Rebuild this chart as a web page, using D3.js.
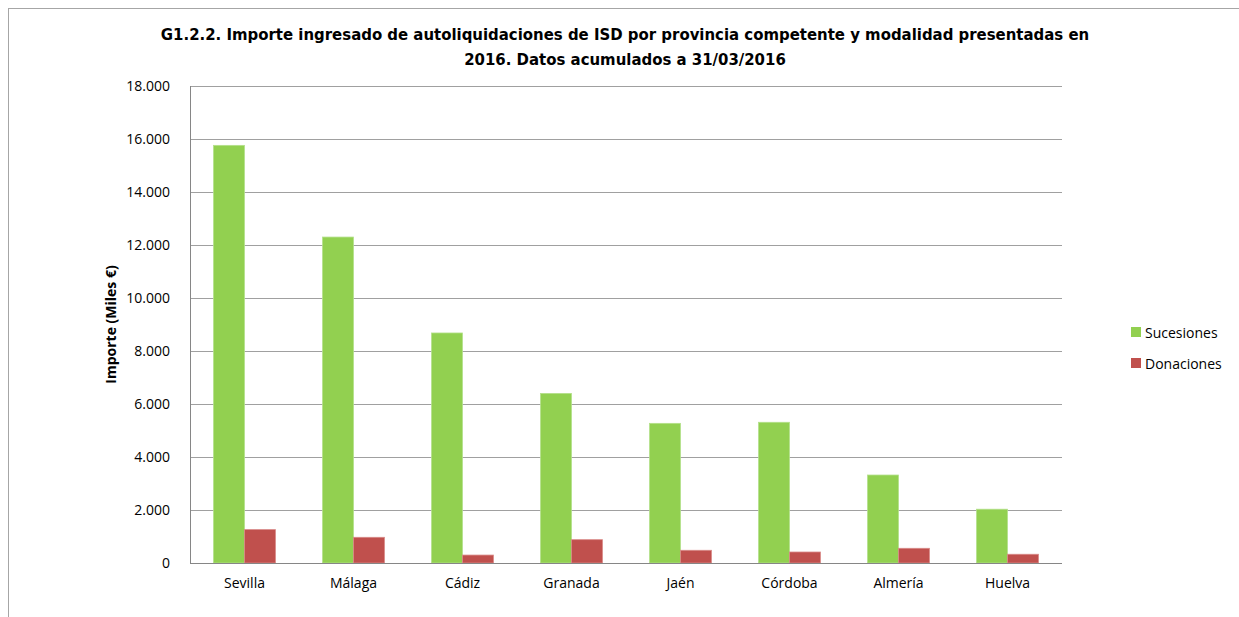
<!DOCTYPE html>
<html>
<head>
<meta charset="utf-8">
<script src="https://cdn.jsdelivr.net/npm/d3@7"></script>
<style>
  body { margin: 0; background: #fff; }
  text { font-family: "Open Sans", "DejaVu Sans", sans-serif; fill: #000; }
  .title { font-family: "Liberation Sans Narrow", "DejaVu Sans Condensed", sans-serif; font-weight: bold; font-size: 16.6px; }
  .axis text { font-size: 14px; }
  .axis path, .axis line { stroke: none; }
</style>
</head>
<body>
<svg id="chart"></svg>
<script>
var provincias = ["Sevilla", "Málaga", "Cádiz", "Granada", "Jaén", "Córdoba", "Almería", "Huelva"];
var series = ["Sucesiones", "Donaciones"];
var sucesiones = [15760, 12300, 8680, 6400, 5270, 5310, 3320, 2030];
var donaciones = [1260, 970, 300, 880, 480, 415, 555, 330];
var yTicks = [0, 2000, 4000, 6000, 8000, 10000, 12000, 14000, 16000, 18000];
var colores = ["#92d050", "#c0504d"];
var bordes = ["#b4e08a", "#d98a88"];

var w = 1239;
var h = 617;
var margin = { top: 86, bottom: 54, left: 190, right: 177 };

var svg = d3.select("#chart").attr("width", w).attr("height", h);

// marco exterior
svg.append("rect")
  .attr("x", 8.5).attr("y", 8.5)
  .attr("width", w + 10).attr("height", h + 10)
  .attr("fill", "none").attr("stroke", "#a6a6a6");

svg.append("text").attr("class", "title")
  .attr("x", 625).attr("y", 40).attr("text-anchor", "middle")
  .text("G1.2.2. Importe ingresado de autoliquidaciones de ISD por provincia competente y modalidad presentadas en");
svg.append("text").attr("class", "title")
  .attr("x", 625).attr("y", 65).attr("text-anchor", "middle")
  .text("2016. Datos acumulados a 31/03/2016");

var yScale = d3.scaleLinear().domain([0, 18000]).range([h - margin.bottom, margin.top]);
var xScale = d3.scaleBand().domain(provincias).range([margin.left, w - margin.right]);
var xSub = d3.scaleBand().domain(series).range([0, xScale.bandwidth()]).paddingInner(0).paddingOuter(0.76);

// rejilla
svg.append("g")
  .selectAll("line")
  .data(yTicks.slice(1))
  .enter()
  .append("line")
  .attr("x1", margin.left).attr("x2", w - margin.right)
  .attr("y1", function(d) { return Math.round(yScale(d)) + 0.5; })
  .attr("y2", function(d) { return Math.round(yScale(d)) + 0.5; })
  .attr("stroke", "#a0a0a0");

var yAxis = d3.axisLeft(yScale).tickValues(yTicks).tickSize(0).tickPadding(20)
  .tickFormat(function(d) { return d3.format(",")(d).replace(/,/g, "."); });
svg.append("g").attr("class", "axis")
  .attr("transform", "translate(" + margin.left + ",0)")
  .call(yAxis);

var xAxis = d3.axisBottom(xScale).tickSize(0).tickPadding(15);
svg.append("g").attr("class", "axis")
  .attr("transform", "translate(0," + (h - margin.bottom) + ")")
  .call(xAxis);

var datos = [sucesiones, donaciones];
series.forEach(function(s, i) {
  svg.append("g")
    .selectAll("rect")
    .data(datos[i])
    .enter()
    .append("rect")
    .attr("x", function(d, j) { return xScale(provincias[j]) + xSub(s); })
    .attr("y", function(d) { return yScale(d); })
    .attr("width", xSub.bandwidth())
    .attr("height", function(d) { return yScale(0) - yScale(d); })
    .attr("fill", colores[i])
    .attr("stroke", bordes[i])
    .attr("stroke-width", 0.8);
});

// ejes
svg.append("line")
  .attr("x1", margin.left + 0.5).attr("x2", margin.left + 0.5)
  .attr("y1", yScale(18000)).attr("y2", yScale(0))
  .attr("stroke", "#868686");
svg.append("line")
  .attr("x1", margin.left).attr("x2", w - margin.right)
  .attr("y1", Math.round(yScale(0)) + 0.5).attr("y2", Math.round(yScale(0)) + 0.5)
  .attr("stroke", "#868686");

svg.append("text")
  .attr("transform", "translate(116," + ((yScale(0) + yScale(18000)) / 2) + ") rotate(-90)")
  .attr("text-anchor", "middle")
  .style("font-size", "14px").style("font-weight", "bold")
  .text("Importe (Miles €)");

// leyenda
var legend = svg.append("g").selectAll("g")
  .data(series).enter().append("g")
  .attr("transform", function(d, i) { return "translate(1131," + (327 + i * 31) + ")"; });
legend.append("rect").attr("width", 10).attr("height", 10)
  .attr("fill", function(d, i) { return colores[i]; });
legend.append("text").attr("x", 14).attr("y", 10.5)
  .style("font-size", "14px")
  .text(function(d) { return d; });
</script>
</body>
</html>
